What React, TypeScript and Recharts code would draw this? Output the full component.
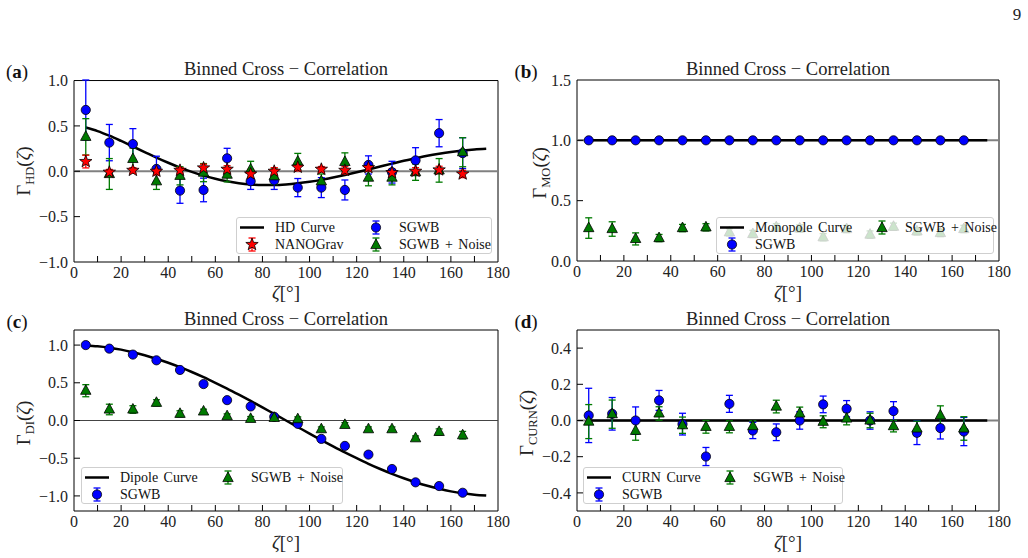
import React from 'react';
import { ComposedChart, Scatter, Line, XAxis, YAxis, ReferenceLine, ReferenceArea, ErrorBar } from 'recharts';

const FONT = "'Liberation Serif', 'DejaVu Serif', 'Times New Roman', serif";

// bin centres (deg) and angles used for the theory curves
const BINS = [5, 15, 25, 35, 45, 55, 65, 75, 85, 95, 105, 115, 125, 135, 145, 155, 165];
const CURVE_ANGLES = [5, 10, 15, 20, 25, 30, 35, 40, 45, 50, 55, 60, 65, 70, 75, 80, 85, 90,
  95, 100, 105, 110, 115, 120, 125, 130, 135, 140, 145, 150, 155, 160, 165, 170, 175];
const FLAT_ANGLES = [5, 175];
const X_TICKS = [0, 10, 20, 30, 40, 50, 60, 70, 80, 90, 100, 110, 120, 130, 140, 150, 160, 170, 180];

// (a) Hellings-Downs
const HD_CURVE = [0.482, 0.443, 0.392, 0.334, 0.273, 0.212, 0.151, 0.094, 0.041, -0.006, -0.048, -0.082,
  -0.110, -0.131, -0.145, -0.151, -0.151, -0.145, -0.133, -0.116, -0.095, -0.069, -0.041, -0.011,
  0.020, 0.052, 0.084, 0.115, 0.143, 0.170, 0.193, 0.213, 0.229, 0.241, 0.248];
const HD_SGWB = [0.676, 0.316, 0.30, 0.026, -0.213, -0.206, 0.143, -0.11, -0.10, -0.18, -0.18, -0.206, 0.07, -0.01, 0.12, 0.42, 0.20];
const HD_SGWB_ERR = [0.33, 0.2, 0.17, 0.14, 0.14, 0.13, 0.11, 0.09, 0.1, 0.1, 0.11, 0.11, 0.1, 0.12, 0.14, 0.15, 0.17];
const HD_NANO = [0.107, -0.01, 0.01, 0.0, 0.01, 0.037, 0.022, -0.03, 0.0, 0.044, 0.022, 0.01, 0.04, -0.015, 0.0, 0.015, -0.03];
const HD_NANO_ERR = [0.07, 0.03, 0.03, 0.04, 0.03, 0.04, 0.04, 0.05, 0.04, 0.04, 0.03, 0.04, 0.04, 0.04, 0.04, 0.04, 0.04];
const HD_NOISE = [0.38, -0.03, 0.136, -0.11, -0.05, -0.015, -0.037, 0.02, -0.055, 0.107, -0.11, 0.103, -0.07, -0.07, -0.01, 0.01, 0.21];
const HD_NOISE_ERR = [0.2, 0.17, 0.12, 0.09, 0.1, 0.1, 0.08, 0.09, 0.09, 0.09, 0.08, 0.1, 0.09, 0.08, 0.09, 0.13, 0.16];

// (b) monopole
const MO_CURVE = [1, 1];
const MO_SGWB = [1, 1, 1, 1, 1, 1, 1, 1, 1, 1, 1, 1, 1, 1, 1, 1, 1];
const MO_SGWB_ERR = [0.005, 0.005, 0.005, 0.005, 0.005, 0.005, 0.005, 0.005, 0.005, 0.005, 0.005, 0.005, 0.005, 0.005, 0.005, 0.005, 0.005];
const MO_NOISE = [0.273, 0.265, 0.183, 0.19, 0.273, 0.279, 0.238, 0.224, 0.28, 0.27, 0.197, 0.265, 0.219, 0.284, 0.246, 0.232, 0.265];
const MO_NOISE_ERR = [0.085, 0.06, 0.05, 0.03, 0.03, 0.03, 0.03, 0.03, 0.03, 0.03, 0.03, 0.03, 0.03, 0.03, 0.03, 0.03, 0.03];

// (c) dipole
const DI_CURVE = [0.996, 0.985, 0.966, 0.940, 0.906, 0.866, 0.819, 0.766, 0.707, 0.643, 0.574, 0.500,
  0.423, 0.342, 0.259, 0.174, 0.087, 0.0, -0.087, -0.174, -0.259, -0.342, -0.423, -0.500,
  -0.574, -0.643, -0.707, -0.766, -0.819, -0.866, -0.906, -0.940, -0.966, -0.985, -0.996];
const DI_SGWB = [1.0, 0.953, 0.874, 0.798, 0.67, 0.483, 0.27, 0.186, 0.049, -0.044, -0.244, -0.337, -0.452, -0.643, -0.82, -0.869, -0.958];
const DI_SGWB_ERR = [0.01, 0.01, 0.01, 0.01, 0.01, 0.01, 0.01, 0.01, 0.01, 0.01, 0.01, 0.01, 0.01, 0.01, 0.01, 0.01, 0.01];
const DI_NOISE = [0.395, 0.146, 0.146, 0.235, 0.089, 0.12, 0.058, 0.022, 0.035, 0.018, -0.115, -0.058, -0.115, -0.115, -0.235, -0.151, -0.195];
const DI_NOISE_ERR = [0.08, 0.07, 0.05, 0.04, 0.04, 0.03, 0.03, 0.03, 0.03, 0.03, 0.03, 0.03, 0.03, 0.03, 0.03, 0.04, 0.05];

// (d) CURN
const CURN_CURVE = [0, 0];
const CURN_SGWB = [0.028, 0.037, 0.0, 0.111, -0.02, -0.199, 0.092, -0.055, -0.065, 0.0, 0.089, 0.065, 0.0, 0.052, -0.068, -0.042, -0.061];
const CURN_SGWB_ERR = [0.15, 0.09, 0.075, 0.055, 0.06, 0.05, 0.047, 0.045, 0.046, 0.048, 0.046, 0.045, 0.048, 0.052, 0.065, 0.06, 0.078];
const CURN_NOISE = [-0.006, 0.035, -0.057, 0.039, -0.026, -0.035, -0.035, -0.031, 0.077, 0.039, -0.007, 0.011, 0.0, -0.031, -0.044, 0.028, -0.044];
const CURN_NOISE_ERR = [0.094, 0.078, 0.052, 0.037, 0.045, 0.035, 0.033, 0.03, 0.035, 0.035, 0.033, 0.035, 0.04, 0.032, 0.04, 0.053, 0.065];

const BLUE = '#0000ff';
const GREEN = '#007a00';
const RED = '#ff0000';

const pts = (ys: number[], es: number[]) => BINS.map((x, i) => ({ x, y: ys[i], e: es[i] }));
const curve = (xs: number[], ys: number[]) => xs.map((x, i) => ({ x, y: ys[i] }));

const starPoints = (cx: number, cy: number, R: number, r: number) => {
  const p: string[] = [];
  for (let k = 0; k < 10; k++) {
    const a = -Math.PI / 2 + (k * Math.PI) / 5;
    const rr = k % 2 === 0 ? R : r;
    p.push(`${cx + rr * Math.cos(a)},${cy + rr * Math.sin(a)}`);
  }
  return p.join(' ');
};

const CircleMark = ({ cx, cy }: any) => (
  <circle cx={cx} cy={cy} r={4.6} fill={BLUE} stroke="#000" strokeWidth={0.8} />
);
const TriMark = ({ cx, cy }: any) => (
  <polygon points={`${cx},${cy - 6} ${cx - 5.2},${cy + 3.6} ${cx + 5.2},${cy + 3.6}`} fill={GREEN} stroke="#000" strokeWidth={0.8} />
);
const StarMark = ({ cx, cy }: any) => (
  <polygon points={starPoints(cx, cy, 6.5, 2.7)} fill={RED} stroke="#000" strokeWidth={0.8} />
);

const XTick = (props: any) => {
  const { x, y, payload } = props;
  const v = payload.value as number;
  return (
    <g>
      {v > 0 && v < 180 && <line x1={x} x2={x} y1={y} y2={y - 6} stroke="#000" strokeWidth={1} />}
      {v % 20 === 0 && (
        <text x={x} y={y + 16} textAnchor="middle" fontSize={16} fontFamily={FONT} fill="#222">{v}</text>
      )}
    </g>
  );
};

const fmt = (v: number) => (v < 0 ? '\u2212' : '') + Math.abs(v).toFixed(1);

const makeYTick = (lo: number, hi: number) => (props: any) => {
  const { x, y, payload } = props;
  const v = payload.value as number;
  return (
    <g>
      {v > lo && v < hi && <line x1={x} x2={x + 6} y1={y} y2={y} stroke="#000" strokeWidth={1} />}
      <text x={x - 6} y={y} dy="0.35em" textAnchor="end" fontSize={16} fontFamily={FONT} fill="#222">{fmt(v)}</text>
    </g>
  );
};

type Kind = 'line' | 'circle' | 'star' | 'tri';
const LegendIcon = ({ kind, color }: { kind: Kind; color: string }) => {
  if (kind === 'line') {
    return <svg width={26} height={17}><line x1={1} x2={25} y1={8.5} y2={8.5} stroke="#000" strokeWidth={2.5} /></svg>;
  }
  return (
    <svg width={26} height={17}>
      <line x1={13} x2={13} y1={2} y2={15} stroke={color} strokeWidth={1.3} />
      <line x1={9.5} x2={16.5} y1={2} y2={2} stroke={color} strokeWidth={1.3} />
      <line x1={9.5} x2={16.5} y1={15} y2={15} stroke={color} strokeWidth={1.3} />
      {kind === 'circle' && <CircleMark cx={13} cy={8.5} />}
      {kind === 'tri' && <TriMark cx={13} cy={9} />}
      {kind === 'star' && <StarMark cx={13} cy={8.5} />}
    </svg>
  );
};

type LegendItem = { label: string; kind: Kind; color: string };
const LegendBox = ({ x, y, w, col1, items }: { x: number; y: number; w: number; col1: number; items: LegendItem[] }) => (
  <div style={{
    position: 'absolute', left: x, top: y, width: w, height: 37, boxSizing: 'border-box',
    border: '1px solid #cfcfcf', borderRadius: 3, background: 'rgba(255,255,255,0.8)',
    display: 'grid', gridTemplateColumns: `${col1}px auto`, gridTemplateRows: '17px 17px',
    gridAutoFlow: 'column', padding: '1px 0 0 2px', fontFamily: FONT, fontSize: 14, color: '#111',
  }}>
    {items.map((it) => (
      <div key={it.label} style={{ display: 'flex', alignItems: 'center' }}>
        <LegendIcon kind={it.kind} color={it.color} />
        <span style={{ marginLeft: 10, whiteSpace: 'nowrap', wordSpacing: 2 }}>{it.label}</span>
      </div>
    ))}
  </div>
);

type SeriesDef = { data: { x: number; y: number; e: number }[]; color: string; shape: any };

type PanelProps = {
  box: { left: number; top: number; width: number; height: number };
  plot: { x0: number; y0: number; x1: number; y1: number };
  yDomain: [number, number];
  yTicks: number[];
  refY: number;
  refColor: string;
  refWidth: number;
  line: { x: number; y: number }[];
  series: SeriesDef[];
};

function Panel({ box, plot, yDomain, yTicks, refY, refColor, refWidth, line, series }: PanelProps) {
  const YTick = makeYTick(yDomain[0], yDomain[1]);
  return (
    <div style={{ position: 'absolute', left: box.left, top: box.top }}>
      <ComposedChart
        width={box.width}
        height={box.height}
        margin={{ top: plot.y0 - box.top, right: box.left + box.width - plot.x1, bottom: 0, left: 0 }}
        style={{ overflow: 'visible' }}
      >
        <XAxis type="number" dataKey="x" domain={[0, 180]} ticks={X_TICKS} interval={0}
          height={box.top + box.height - plot.y1} axisLine={false} tickLine={false} tickSize={0} tickMargin={0} tick={<XTick />} />
        <YAxis type="number" domain={yDomain} ticks={yTicks} interval={0} width={plot.x0 - box.left}
          axisLine={false} tickLine={false} tickSize={0} tickMargin={0} tick={<YTick />} />
        <ReferenceLine y={refY} stroke={refColor} strokeWidth={refWidth} />
        <Line data={line} dataKey="y" type="monotone" stroke="#000" strokeWidth={2.5} dot={false}
          isAnimationActive={false} />
        {series.map((s, i) => (
          <Scatter key={i} data={s.data} dataKey="y" shape={s.shape} isAnimationActive={false}>
            <ErrorBar dataKey="e" direction="y" width={3.5} stroke={s.color} strokeWidth={1.3} />
          </Scatter>
        ))}
        <ReferenceArea x1={0} x2={180} y1={yDomain[0]} y2={yDomain[1]} fill="none" stroke="#000" strokeWidth={1} ifOverflow="visible" />
      </ComposedChart>
    </div>
  );
}

const abs = (x: number, y: number, extra: React.CSSProperties = {}): React.CSSProperties => ({
  position: 'absolute', left: x, top: y, transform: 'translate(-50%, -50%)', whiteSpace: 'nowrap', lineHeight: 1, ...extra,
});

const Title = ({ x, y }: { x: number; y: number }) => (
  <div style={abs(x, y, { fontSize: 18.5, color: '#222' })}>Binned Cross {'\u2212'} Correlation</div>
);
const Tag = ({ x, y, t }: { x: number; y: number; t: string }) => (
  <div style={abs(x, y, { fontSize: 19, color: '#111' })}>(<b>{t}</b>)</div>
);
const XLabel = ({ x, y }: { x: number; y: number }) => (
  <div style={abs(x, y, { fontSize: 19, color: '#222' })}><i>ζ</i>[°]</div>
);
const YLabel = ({ x, y, sub }: { x: number; y: number; sub: string }) => (
  <div style={abs(x, y, { fontSize: 19, color: '#222', transform: 'translate(-50%, -50%) rotate(-90deg)' })}>
    Γ<span style={{ fontSize: 12.5, verticalAlign: -4 }}>{sub}</span>(<i>ζ</i>)
  </div>
);

export default function App() {
  return (
    <div style={{ position: 'absolute', left: 0, top: 0, width: 1028, height: 558, background: '#fff', fontFamily: FONT, overflow: 'hidden' }}>
      <div style={abs(1017, 14, { fontSize: 17, color: '#222' })}>9</div>

      <Panel
        box={{ left: 0, top: 40, width: 515, height: 270 }}
        plot={{ x0: 74, y0: 80, x1: 498, y1: 262 }}
        yDomain={[-1, 1]} yTicks={[-1, -0.5, 0, 0.5, 1]}
        refY={0} refColor="#808080" refWidth={2}
        line={curve(CURVE_ANGLES, HD_CURVE)}
        series={[
          { data: pts(HD_SGWB, HD_SGWB_ERR), color: BLUE, shape: CircleMark },
          { data: pts(HD_NOISE, HD_NOISE_ERR), color: GREEN, shape: TriMark },
          { data: pts(HD_NANO, HD_NANO_ERR), color: RED, shape: StarMark },
        ]}
      />
      <Panel
        box={{ left: 505, top: 40, width: 523, height: 270 }}
        plot={{ x0: 577, y0: 80, x1: 999, y1: 261 }}
        yDomain={[0, 1.5]} yTicks={[0, 0.5, 1, 1.5]}
        refY={1} refColor="#808080" refWidth={2}
        line={curve(FLAT_ANGLES, MO_CURVE)}
        series={[
          { data: pts(MO_SGWB, MO_SGWB_ERR), color: BLUE, shape: CircleMark },
          { data: pts(MO_NOISE, MO_NOISE_ERR), color: GREEN, shape: TriMark },
        ]}
      />
      <Panel
        box={{ left: 0, top: 290, width: 515, height: 268 }}
        plot={{ x0: 74, y0: 330, x1: 498, y1: 511 }}
        yDomain={[-1.2, 1.2]} yTicks={[-1, -0.5, 0, 0.5, 1]}
        refY={0} refColor="#444444" refWidth={1.2}
        line={curve(CURVE_ANGLES, DI_CURVE)}
        series={[
          { data: pts(DI_SGWB, DI_SGWB_ERR), color: BLUE, shape: CircleMark },
          { data: pts(DI_NOISE, DI_NOISE_ERR), color: GREEN, shape: TriMark },
        ]}
      />
      <Panel
        box={{ left: 505, top: 290, width: 523, height: 268 }}
        plot={{ x0: 577, y0: 330, x1: 999, y1: 511 }}
        yDomain={[-0.5, 0.5]} yTicks={[-0.4, -0.2, 0, 0.2, 0.4]}
        refY={0} refColor="#808080" refWidth={2}
        line={curve(FLAT_ANGLES, CURN_CURVE)}
        series={[
          { data: pts(CURN_SGWB, CURN_SGWB_ERR), color: BLUE, shape: CircleMark },
          { data: pts(CURN_NOISE, CURN_NOISE_ERR), color: GREEN, shape: TriMark },
        ]}
      />

      <Title x={286} y={69} />
      <Title x={788} y={69} />
      <Title x={286} y={319} />
      <Title x={788} y={319} />
      <Tag x={17} y={71} t="a" />
      <Tag x={526} y={71} t="b" />
      <Tag x={17} y={321} t="c" />
      <Tag x={526} y={321} t="d" />
      <XLabel x={286} y={292} />
      <XLabel x={788} y={292} />
      <XLabel x={286} y={542} />
      <XLabel x={788} y={542} />
      <YLabel x={25} y={171} sub="HD" />
      <YLabel x={541} y={173} sub="MO" />
      <YLabel x={25} y={423} sub="DI" />
      <YLabel x={528} y={423} sub="CURN" />

      <LegendBox x={236} y={217} w={256} col1={124} items={[
        { label: 'HD Curve', kind: 'line', color: '#000' },
        { label: 'NANOGrav', kind: 'star', color: RED },
        { label: 'SGWB', kind: 'circle', color: BLUE },
        { label: 'SGWB + Noise', kind: 'tri', color: GREEN },
      ]} />
      <LegendBox x={716} y={217} w={278} col1={150} items={[
        { label: 'Monopole Curve', kind: 'line', color: '#000' },
        { label: 'SGWB', kind: 'circle', color: BLUE },
        { label: 'SGWB + Noise', kind: 'tri', color: GREEN },
      ]} />
      <LegendBox x={81} y={467} w={262} col1={131} items={[
        { label: 'Dipole Curve', kind: 'line', color: '#000' },
        { label: 'SGWB', kind: 'circle', color: BLUE },
        { label: 'SGWB + Noise', kind: 'tri', color: GREEN },
      ]} />
      <LegendBox x={583} y={467} w={260} col1={131} items={[
        { label: 'CURN Curve', kind: 'line', color: '#000' },
        { label: 'SGWB', kind: 'circle', color: BLUE },
        { label: 'SGWB + Noise', kind: 'tri', color: GREEN },
      ]} />
    </div>
  );
}
